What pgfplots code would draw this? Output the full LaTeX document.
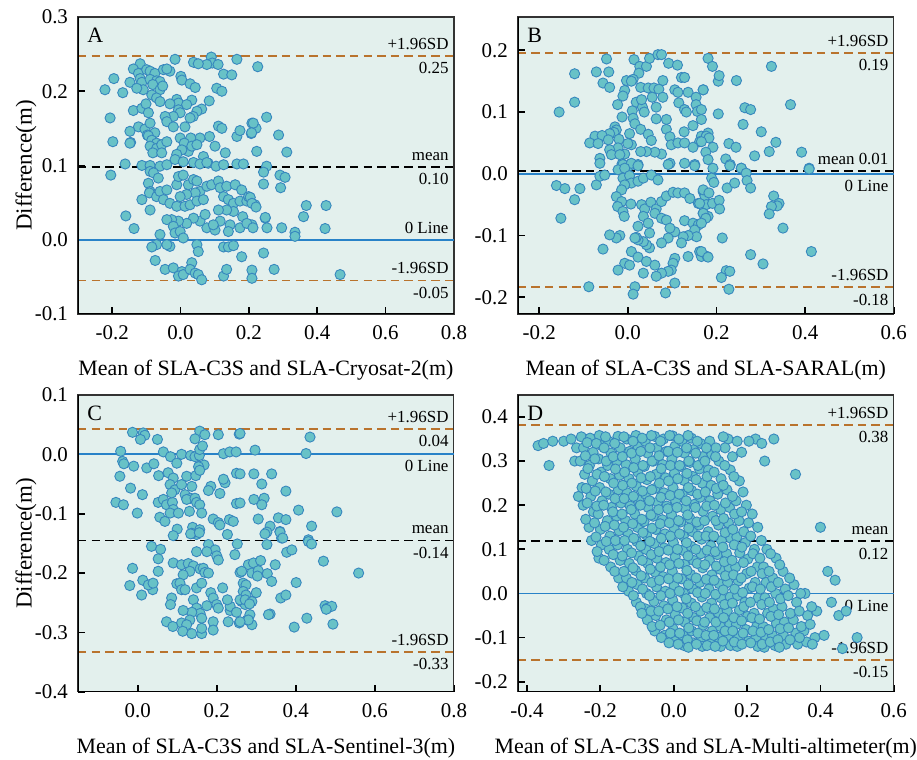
\documentclass[border=0pt]{standalone}
\usepackage{fontspec}
\setmainfont{Liberation Serif}
\usepackage{pgfplots}
\pgfplotsset{compat=1.18}

\definecolor{bgc}{RGB}{227,240,237}
\definecolor{ptfill}{RGB}{104,194,199}
\definecolor{ptedge}{RGB}{55,135,190}
\definecolor{sdc}{RGB}{185,115,45}
\definecolor{zeroc}{RGB}{40,130,200}

\pgfplotsset{
  panel/.style={
    scale only axis, width=188bp, height=148.5bp, anchor=south west,
    axis background/.style={fill=bgc},
    axis line style={draw=black!80, line width=0.6bp},
    tick pos=left, tick align=inside, major tick length=3.5bp,
    every tick/.style={black, line width=0.9bp},
    /pgf/number format/assume math mode=true,
    tick label style={font=\fontsize{10.5}{12}\selectfont},
    xticklabel style={/pgf/number format/.cd, fixed, fixed zerofill, precision=1, /tikz/.cd, yshift=-2.5bp},
    yticklabel style={/pgf/number format/.cd, fixed, fixed zerofill, precision=1, /tikz/.cd, xshift=-1.5bp},
    scaled ticks=false,
    every axis x label/.style={at={(axis description cs:0.5,-0.189)}, anchor=center, inner sep=0pt, font=\fontsize{11}{13}\selectfont},
    every axis y label/.style={at={(axis description cs:-0.138,0.5)}, rotate=90, anchor=center, inner sep=0pt, font=\fontsize{11.5}{13}\selectfont},
  },
  pts/.style={only marks, mark=*, mark size=2.55bp, mark options={fill=ptfill, draw=ptedge, line width=0.45bp}},
  sdl/.style={sdc, line width=0.9bp, dash pattern=on 4.2bp off 2.6bp},
  meanl/.style={black, line width=0.9bp, dash pattern=on 4.2bp off 2.6bp},
  zerol/.style={zeroc, line width=0.9bp},
}
\tikzset{
  ann/.style={font=\fontsize{8.5}{10}\selectfont, inner sep=0pt},
  up/.style={ann, anchor=base east, xshift=-2.5bp, yshift=3.3bp},
  dn/.style={ann, anchor=north east, xshift=-2.5bp, yshift=-3bp},
  lett/.style={font=\fontsize{11}{12}\selectfont, inner sep=0pt, anchor=north west, xshift=4.5bp, yshift=-5.5bp},
  frame/.style={line width=1.1bp, black},
}

\begin{document}
\begin{tikzpicture}
\path (0,0) rectangle (458.5bp,380bp);

% ---------------- A ----------------
\begin{axis}[panel, at={(39bp,223bp)}, xmin=-0.3, xmax=0.8, ymin=-0.1, ymax=0.3,
  xtick={-0.2,0,0.2,0.4,0.6,0.8}, ytick={-0.1,0,0.1,0.2,0.3},
  xlabel={Mean of SLA-C3S and SLA-Cryosat-2(m)}, ylabel={Difference(m)}]
\addplot[pts] coordinates {
(-0.016,0.243) (0.09,0.246) (0.093,0.238) (0.077,0.236) (0.11,0.236) (0.038,0.239) (0.052,0.237) (0.165,0.243) (0.226,0.233)
(-0.118,0.237) (-0.138,0.230) (-0.123,0.224) (-0.099,0.229) (-0.089,0.227) (-0.075,0.224) (-0.05,0.229) (-0.031,0.227) (-0.04,0.23)
(-0.195,0.217) (-0.221,0.202) (-0.169,0.198)
(-0.148,0.212) (-0.118,0.217) (-0.113,0.212) (-0.089,0.216) (-0.07,0.214) (-0.06,0.213) (-0.081,0.209) (-0.06,0.202) (-0.109,0.202) (-0.084,0.195) (-0.128,0.204) (-0.07,0.191) (-0.06,0.186) (-0.052,0.207)
(0.001,0.22) (0.004,0.215) (0.028,0.21) (0.043,0.205) (0.106,0.204) (0.121,0.2) (0.126,0.223) (0.15,0.222)
(-0.011,0.189) (-0.006,0.184) (-0.031,0.183) (0.033,0.188) (0.018,0.182) (0.084,0.187) (0.062,0.176) (0.048,0.173) (0.037,0.166) (0.028,0.164) (-0.006,0.175) (-0.001,0.171) (-0.021,0.166) (-0.045,0.166) (-0.04,0.159) (-0.021,0.152) (0.013,0.152)
(-0.138,0.174) (-0.113,0.177) (-0.101,0.183) (-0.094,0.171) (-0.123,0.152) (-0.104,0.149) (-0.089,0.157) (-0.097,0.141) (-0.075,0.144) (-0.148,0.146) (-0.146,0.131) (-0.198,0.132) (-0.206,0.164)
(0.111,0.153) (0.121,0.15) (0.085,0.139) (0.057,0.137) (0.03,0.137) (-0.001,0.137) (0.011,0.13) (0.023,0.119) (0.004,0.121) (-0.011,0.115) (0.033,0.126) (0.048,0.128) (0.067,0.112) (0.081,0.103) (0.101,0.126) (0.131,0.117) (0.165,0.139) (0.174,0.147) (0.207,0.143) (0.209,0.157) (0.221,0.15) (0.223,0.119) (0.252,0.165) (0.165,0.102) (0.184,0.102) (0.252,0.099)
(-0.094,0.14) (-0.084,0.134) (-0.07,0.13) (-0.089,0.126) (-0.07,0.123) (-0.055,0.128) (-0.081,0.117) (-0.055,0.117) (-0.04,0.132) (-0.148,0.13)
(-0.162,0.102) (-0.113,0.1) (-0.089,0.1) (-0.06,0.099) (-0.04,0.101) (-0.016,0.108) (0.008,0.105) (0.038,0.104) (0.057,0.102) (0.077,0.104) (0.104,0.099) (0.126,0.101)
(0.287,0.141) (0.311,0.118) (0.213,0.157) (0.208,0.144)
(-0.204,0.087) (0.243,0.091) (0.243,0.075)
(-0.089,0.092) (-0.079,0.09) (-0.065,0.083) (-0.094,0.076) (-0.089,0.065) (-0.091,0.063) (-0.113,0.054) (-0.089,0.04) (-0.07,0.058) (-0.06,0.065) (-0.05,0.054) (-0.04,0.067) (-0.031,0.049) (-0.011,0.074) (-0.006,0.085) (0.008,0.087) (0.023,0.074) (0.038,0.081) (0.048,0.079) (0.057,0.065) (0.043,0.063) (0.018,0.061) (-0.001,0.058) (-0.011,0.045) (0.013,0.045) (0.028,0.047) (0.048,0.052) (0.067,0.054) (0.077,0.072) (0.091,0.074) (0.111,0.079) (0.116,0.07) (0.135,0.072) (0.126,0.058) (0.14,0.054) (0.155,0.049) (0.16,0.074) (0.179,0.067) (0.174,0.052) (0.194,0.052) (0.199,0.058) (0.218,0.047) (0.182,0.031) (0.155,0.038) (0.135,0.04) (0.111,0.04) (0.116,0.025) (0.145,0.02) (0.14,0.011) (0.174,0.016) (0.209,0.02) (0.194,0.022) (0.248,0.029) (0.253,0.016) (0.077,0.016) (0.101,0.013) (0.096,0.02) (0.057,0.025) (0.072,0.034) (0.038,0.029) (0.018,0.022) (-0.006,0.025) (-0.026,0.027) (-0.04,0.027) (-0.021,0.018) (-0.016,0.009) (-0.001,0.011) (0.008,0.0023) (-0.031,-0.009) (-0.06,0.007) (-0.16,0.032) (-0.136,0.015) (-0.04,-0.0067) (-0.07,-0.0067) (-0.084,-0.0098) (0.048,-0.0067) (0.052,-0.016) (0.126,-0.0098) (0.14,-0.0098) (0.155,-0.008) (0.179,-0.023) (0.243,-0.018) (-0.074,-0.028) (-0.045,-0.04) (-0.021,-0.038) (0.004,-0.043) (-0.006,-0.049) (0.008,-0.047) (0.033,-0.031) (0.028,-0.04) (0.043,-0.045) (0.052,-0.047) (0.062,-0.054) (0.126,-0.049) (0.135,-0.04) (0.209,-0.041) (0.209,-0.052)
(0.291,0.087) (0.306,0.084) (0.293,0.07) (0.204,0.057) (0.209,0.049) (0.221,0.044) (0.368,0.046) (0.426,0.046) (0.248,0.03) (0.36,0.031) (0.212,0.016) (0.296,0.016) (0.335,0.01) (0.335,0.0045) (0.423,0.015) (0.274,-0.04) (0.467,-0.047)
};
\addplot[zerol] coordinates {(-0.3,0) (0.8,0)};
\addplot[sdl] coordinates {(-0.3,0.247) (0.8,0.247)};
\addplot[meanl] coordinates {(-0.3,0.098) (0.8,0.098)};
\addplot[sdl] coordinates {(-0.3,-0.055) (0.8,-0.055)};
\draw[frame] (rel axis cs:0,1) -- (rel axis cs:0,0) -- (rel axis cs:1,0);
\node[lett] at (rel axis cs:0,1) {A};
\node[up] at (axis cs:0.8,0.247) {+1.96SD};
\node[dn] at (axis cs:0.8,0.247) {0.25};
\node[up] at (axis cs:0.8,0.098) {mean};
\node[dn] at (axis cs:0.8,0.098) {0.10};
\node[up] at (axis cs:0.8,0) {0 Line};
\node[up] at (axis cs:0.8,-0.055) {-1.96SD};
\node[dn] at (axis cs:0.8,-0.055) {-0.05};
\end{axis}

% ---------------- B ----------------
\begin{axis}[panel, at={(259bp,223bp)}, xmin=-0.248, xmax=0.6, ymin=-0.227, ymax=0.254,
  xtick={-0.2,0,0.2,0.4,0.6}, ytick={-0.2,-0.1,0,0.1,0.2},
  xlabel={Mean of SLA-C3S and SLA-SARAL(m)}]
\addplot[pts] coordinates {
(-0.048,0.186) (-0.12,0.162) (-0.071,0.165) (-0.043,0.165) (-0.056,0.147) (-0.041,0.14) (-0.12,0.116) (-0.155,0.1) (0.014,0.185) (0.027,0.174) (0.042,0.174) (0.049,0.187) (0.068,0.193) (0.076,0.193) (0.092,0.179) (0.112,0.176) (0.025,0.163) (0.012,0.153) (-0.003,0.151) (0.008,0.15) (0.079,0.151) (0.121,0.156) (0.128,0.156) (0.136,0.132) (0.154,0.124) (0.17,0.136) (0.029,0.14) (0.046,0.139) (0.059,0.139) (0.07,0.137) (0.106,0.136) (0.113,0.132) (-0.007,0.135) (-0.011,0.126) (-0.023,0.112) (0.019,0.116) (0.033,0.108) (0.031,0.12) (0.055,0.124) (0.079,0.124) (0.064,0.108) (0.115,0.115) (0.128,0.104) (0.132,0.1) (0.154,0.112) (0.157,0.101) (0.037,0.1) (0.01,0.102) (0.012,0.09) (-0.013,0.092) (0.064,0.089) (0.087,0.088) (0.016,0.081) (-0.029,0.076) (-0.026,0.071) (-0.031,0.067) (-0.041,0.065) (-0.074,0.061) (-0.058,0.062) (-0.086,0.05) (-0.067,0.049) (-0.044,0.055) (-0.02,0.056) (0.004,0.065) (0.029,0.072) (0.046,0.064) (0.053,0.054) (0.087,0.072) (0.095,0.06) (0.098,0.047) (0.113,0.05) (0.127,0.068) (0.147,0.078) (0.166,0.061) (0.162,0.052) (0.177,0.061) (0.147,0.043) (0.128,0.05) (0.076,0.032) (0.061,0.035) (0.042,0.036) (0.029,0.036) (0.008,0.047) (0.0,0.049) (-0.022,0.042) (-0.007,0.032) (-0.041,0.039) (-0.037,0.031) (-0.063,0.025) (-0.063,0.017) (-0.018,0.031) (-0.013,0.016) (0.004,0.013) (0.023,0.015) (0.095,0.017) (0.128,0.017) (0.151,0.015) (0.181,0.066)
(0.181,0.187) (0.191,0.174) (0.204,0.15) (0.206,0.159) (0.245,0.151) (0.324,0.174) (0.17,0.136) (0.367,0.112) (0.166,0.104) (0.166,0.088) (0.204,0.097) (0.264,0.107) (0.277,0.104) (0.26,0.08) (0.301,0.068) (0.177,0.061) (0.183,0.058) (0.166,0.052) (0.192,0.043) (0.176,0.035) (0.228,0.049) (0.244,0.043) (0.334,0.051) (0.319,0.036) (0.286,0.029) (0.392,0.035) (0.221,0.024) (0.231,0.015) (0.192,0.009) (0.256,0.009) (0.409,0.009)
(-0.011,0.015) (0.008,0.017) (0.023,0.013) (0.091,0.015) (0.151,0.013)
(-0.161,-0.019) (-0.142,-0.024) (-0.108,-0.024) (-0.12,-0.042) (-0.151,-0.072) (-0.071,-0.018) (-0.063,-0.004) (-0.052,-0.002)
(-0.022,0.0065) (-0.007,0.009) (-0.011,-0.007) (0.004,-0.003) (0.008,-0.015) (0.023,-0.012) (0.035,-0.007) (0.053,-0.002) (0.068,-0.01) (-0.007,-0.018) (-0.014,-0.026) (-0.026,-0.037) (-0.014,-0.045) (-0.023,-0.053) (-0.011,-0.061) (-0.008,-0.069) (0.007,-0.049) (0.031,-0.05) (0.038,-0.057) (0.052,-0.046) (0.064,-0.057) (0.076,-0.045) (0.087,-0.036) (0.102,-0.03) (0.113,-0.031) (0.128,-0.031) (0.14,-0.04) (0.159,-0.048) (0.17,-0.029) (0.174,-0.036)
(0.035,-0.069) (0.046,-0.08) (0.049,-0.096) (0.061,-0.064) (0.076,-0.072) (0.087,-0.075) (0.128,-0.076) (0.147,-0.08) (0.159,-0.083) (0.151,-0.091) (0.155,-0.102) (0.136,-0.1) (0.125,-0.102) (0.121,-0.112) (0.106,-0.094) (0.095,-0.088) (0.091,-0.104) (0.076,-0.112) (0.049,-0.12) (0.042,-0.115) (0.035,-0.11) (0.023,-0.107) (0.019,-0.103) (0.023,-0.085) (0.016,-0.104) (-0.018,-0.1) (-0.026,-0.104) (-0.041,-0.099) (-0.056,-0.122) (0.008,-0.126) (0.023,-0.135) (0.042,-0.142) (0.061,-0.148) (0.106,-0.137) (0.102,-0.145) (0.098,-0.156) (0.091,-0.158) (0.076,-0.161) (0.064,-0.166) (0.035,-0.161) (-0.007,-0.145) (0.004,-0.148) (-0.022,-0.156) (0.136,-0.134) (0.162,-0.126) (0.166,-0.134) (0.179,-0.134) (0.106,-0.177) (0.016,-0.183) (0.012,-0.195) (0.085,-0.193) (-0.088,-0.183) (0.177,-0.05) (0.17,-0.064) (0.181,-0.069)
(0.181,0.023) (0.23,0.013) (0.256,0.009) (0.267,0.001) (0.409,0.0076) (0.189,-0.007) (0.194,-0.014) (0.224,-0.023) (0.241,-0.015) (0.269,-0.011) (0.277,-0.023) (0.17,-0.026) (0.183,-0.031) (0.162,-0.048) (0.191,-0.048) (0.206,-0.043) (0.207,-0.057) (0.17,-0.064) (0.176,-0.072) (0.166,-0.08) (0.329,-0.036) (0.341,-0.048) (0.337,-0.052) (0.324,-0.053) (0.319,-0.065) (0.35,-0.088) (0.213,-0.104) (0.166,-0.126) (0.181,-0.135) (0.277,-0.131) (0.305,-0.146) (0.414,-0.126) (0.222,-0.157) (0.23,-0.158) (0.211,-0.168) (0.228,-0.187)
};
\addplot[zerol] coordinates {(-0.248,0) (0.6,0)};
\addplot[sdl] coordinates {(-0.248,0.196) (0.6,0.196)};
\addplot[meanl] coordinates {(-0.248,0.005) (0.6,0.005)};
\addplot[sdl] coordinates {(-0.248,-0.184) (0.6,-0.184)};
\draw[frame] (rel axis cs:0,1) -- (rel axis cs:0,0) -- (rel axis cs:1,0);
\node[lett] at (rel axis cs:0,1) {B};
\node[up] at (axis cs:0.6,0.196) {+1.96SD};
\node[dn] at (axis cs:0.6,0.196) {0.19};
\node[up] at (axis cs:0.6,0.005) {mean 0.01};
\node[dn] at (axis cs:0.6,0) {0 Line};
\node[up] at (axis cs:0.6,-0.184) {-1.96SD};
\node[dn] at (axis cs:0.6,-0.184) {-0.18};
\end{axis}

% ---------------- C ----------------
\begin{axis}[panel, at={(39bp,34bp)}, xmin=-0.151, xmax=0.8, ymin=-0.4, ymax=0.1,
  xtick={0,0.2,0.4,0.6,0.8}, ytick={-0.4,-0.3,-0.2,-0.1,0,0.1},
  xlabel={Mean of SLA-C3S and SLA-Sentinel-3(m)}, ylabel={Difference(m)}]
\addplot[pts] coordinates {
(-0.013,0.037) (0.014,0.036) (0.018,0.032) (0.007,0.025) (0.05,0.025) (0.157,0.039) (0.17,0.033) (0.145,0.026) (0.204,0.033) (0.257,0.034)
(-0.043,0.005) (-0.038,-0.012) (-0.035,-0.016) (-0.01,-0.02) (0.023,-0.023) (0.041,-0.016) (0.065,0.004) (0.083,-0.004) (0.099,-0.015) (0.111,0.0) (0.134,-0.002) (0.145,-0.004) (0.156,-0.002) (0.157,0.008) (0.164,0.014) (0.156,-0.02) (0.168,-0.018) (0.217,0.001) (0.233,0.004) (0.249,0.004) (-0.045,-0.037) (-0.018,-0.057) (0.012,-0.068) (0.053,-0.036) (0.077,-0.031) (0.09,-0.04) (0.082,-0.051) (0.094,-0.06) (0.111,-0.051) (0.124,-0.037) (0.147,-0.036) (0.154,-0.021) (0.157,-0.027) (0.12,-0.068) (0.134,-0.074) (0.137,-0.054) (0.185,-0.054) (0.179,-0.061) (0.208,-0.066) (0.221,-0.048) (0.217,-0.042) (0.25,-0.032) (-0.055,-0.081) (-0.036,-0.085) (-0.001,-0.099) (0.052,-0.081) (0.065,-0.076) (0.073,-0.085) (0.088,-0.081) (0.09,-0.093) (0.086,-0.065) (0.056,-0.106) (0.069,-0.113) (0.082,-0.099) (0.103,-0.099) (0.124,-0.076) (0.145,-0.074) (0.149,-0.081) (0.157,-0.085) (0.162,-0.099) (0.131,-0.096) (0.191,-0.109) (0.204,-0.115) (0.208,-0.119) (0.232,-0.11) (0.242,-0.113) (0.25,-0.083) (0.1,-0.126) (0.139,-0.123) (0.157,-0.127) (0.149,-0.135) (0.137,-0.133)
(0.259,0.035) (0.436,0.029) (0.297,0.007) (0.426,0.0013) (0.259,-0.033) (0.294,-0.033) (0.339,-0.033) (0.314,-0.05) (0.375,-0.062) (0.294,-0.076) (0.32,-0.074) (0.314,-0.085) (0.259,-0.082) (0.407,-0.094) (0.504,-0.097) (0.305,-0.109) (0.356,-0.107) (0.375,-0.11) (0.335,-0.121) (0.327,-0.131) (0.36,-0.13) (0.44,-0.121) (0.364,-0.141) (0.432,-0.144)
(0.09,-0.137) (0.134,-0.134) (0.156,-0.132) (0.227,-0.135) (0.252,-0.151) (0.035,-0.155) (0.058,-0.16) (0.052,-0.176) (0.09,-0.183) (0.111,-0.186) (0.128,-0.184) (0.141,-0.188) (0.132,-0.197) (0.115,-0.203) (0.158,-0.193) (0.179,-0.152) (0.196,-0.161) (0.2,-0.171) (0.204,-0.178) (0.175,-0.164) (0.149,-0.164) (0.246,-0.169) (-0.013,-0.192) (0.013,-0.212) (-0.02,-0.221) (0.01,-0.237) (0.038,-0.228) (0.027,-0.22) (0.039,-0.217) (0.052,-0.197) (0.086,-0.242) (0.083,-0.253) (0.099,-0.218) (0.107,-0.217) (0.111,-0.228) (0.12,-0.228) (0.149,-0.225) (0.162,-0.217) (0.166,-0.192) (0.17,-0.199) (0.179,-0.2) (0.185,-0.233) (0.191,-0.242) (0.2,-0.253) (0.204,-0.259) (0.175,-0.255) (0.141,-0.245) (0.149,-0.259) (0.158,-0.268) (0.162,-0.276) (0.137,-0.266) (0.132,-0.279) (0.115,-0.263) (0.111,-0.284) (0.073,-0.282) (0.124,-0.287) (0.089,-0.29) (0.114,-0.298) (0.137,-0.302) (0.162,-0.302) (0.162,-0.293) (0.191,-0.282) (0.191,-0.296) (0.215,-0.225) (0.234,-0.263) (0.234,-0.256) (0.227,-0.245) (0.25,-0.266) (0.267,-0.217) (0.263,-0.248) (0.259,-0.199) (0.28,-0.186) (0.229,-0.282) (0.277,-0.279) (0.257,-0.284) (0.272,-0.253)
(0.322,-0.134) (0.36,-0.131) (0.367,-0.141) (0.327,-0.152) (0.432,-0.147) (0.44,-0.151) (0.377,-0.165) (0.39,-0.161) (0.47,-0.18) (0.559,-0.2) (0.293,-0.183) (0.311,-0.179) (0.348,-0.186) (0.263,-0.197) (0.289,-0.2) (0.305,-0.196) (0.303,-0.205) (0.328,-0.201) (0.339,-0.214) (0.401,-0.216) (0.274,-0.22) (0.267,-0.231) (0.274,-0.237) (0.3,-0.233) (0.259,-0.245) (0.272,-0.245) (0.289,-0.248) (0.283,-0.252) (0.284,-0.27) (0.289,-0.287) (0.28,-0.279) (0.259,-0.282) (0.362,-0.242) (0.375,-0.237) (0.335,-0.269) (0.331,-0.27) (0.396,-0.291) (0.428,-0.276) (0.474,-0.255) (0.48,-0.259) (0.491,-0.256) (0.477,-0.261) (0.494,-0.286)
};
\addplot[zerol] coordinates {(-0.151,0) (0.8,0)};
\addplot[sdl] coordinates {(-0.151,0.043) (0.8,0.043)};
\addplot[meanl] coordinates {(-0.151,-0.145) (0.8,-0.145)};
\addplot[sdl] coordinates {(-0.151,-0.333) (0.8,-0.333)};
\draw[frame] (rel axis cs:0,1) -- (rel axis cs:0,0) -- (rel axis cs:1,0);
\node[lett] at (rel axis cs:0,1) {C};
\node[up] at (axis cs:0.8,0.043) {+1.96SD};
\node[dn] at (axis cs:0.8,0.043) {0.04};
\node[dn] at (axis cs:0.8,0) {0 Line};
\node[up] at (axis cs:0.8,-0.145) {mean};
\node[dn] at (axis cs:0.8,-0.145) {-0.14};
\node[up] at (axis cs:0.8,-0.333) {-1.96SD};
\node[dn] at (axis cs:0.8,-0.333) {-0.33};
\end{axis}

% ---------------- D ----------------
\begin{axis}[panel, at={(259bp,34bp)}, xmin=-0.425, xmax=0.6, ymin=-0.223, ymax=0.45,
  xtick={-0.4,-0.2,0,0.2,0.4,0.6}, ytick={-0.2,-0.1,0,0.1,0.2,0.3,0.4},
  xlabel={Mean of SLA-C3S and SLA-Multi-altimeter(m)}]
\addplot[pts] coordinates {
(-0.37,0.335) (-0.355,0.34) (-0.34,0.29) (-0.33,0.345) (-0.3,0.345) (-0.28,0.35) (-0.265,0.33) (-0.27,0.3) (-0.26,0.22)
(-0.252,0.355) (-0.246,0.33) (-0.255,0.3) (-0.243,0.27) (-0.25,0.24) (-0.247,0.2)
(-0.228,0.352) (-0.22,0.32) (-0.23,0.29) (-0.222,0.255) (-0.226,0.22) (-0.219,0.185) (-0.231,0.15) (-0.224,0.12)
(-0.203,0.358) (-0.196,0.335) (-0.205,0.305) (-0.198,0.275) (-0.202,0.24) (-0.195,0.21) (-0.206,0.18) (-0.2,0.145) (-0.197,0.11) (-0.204,0.08)
(-0.178,0.345) (-0.171,0.318) (-0.18,0.29) (-0.173,0.26) (-0.177,0.225) (-0.17,0.195) (-0.181,0.165) (-0.174,0.13) (-0.176,0.1) (-0.172,0.06)
(-0.152,0.356) (-0.146,0.33) (-0.155,0.3) (-0.148,0.268) (-0.151,0.235) (-0.144,0.205) (-0.156,0.175) (-0.149,0.142) (-0.153,0.11) (-0.146,0.075) (-0.15,0.035)
(-0.128,0.35) (-0.12,0.322) (-0.13,0.292) (-0.122,0.26) (-0.127,0.228) (-0.119,0.198) (-0.131,0.165) (-0.124,0.135) (-0.126,0.1) (-0.121,0.068) (-0.129,0.035) (-0.123,0.005)
(-0.103,0.358) (-0.097,0.332) (-0.105,0.305) (-0.098,0.275) (-0.102,0.243) (-0.095,0.212) (-0.106,0.18) (-0.099,0.15) (-0.101,0.118) (-0.096,0.085) (-0.104,0.052) (-0.099,0.02) (-0.102,-0.02)
(-0.078,0.345) (-0.071,0.318) (-0.08,0.288) (-0.073,0.258) (-0.077,0.225) (-0.07,0.195) (-0.081,0.163) (-0.074,0.132) (-0.076,0.1) (-0.071,0.068) (-0.079,0.035) (-0.074,0.0) (-0.077,-0.035) (-0.072,-0.06)
(-0.052,0.356) (-0.046,0.33) (-0.055,0.3) (-0.048,0.27) (-0.051,0.238) (-0.044,0.207) (-0.056,0.175) (-0.049,0.145) (-0.053,0.113) (-0.046,0.08) (-0.05,0.048) (-0.047,0.015) (-0.054,-0.018) (-0.049,-0.05) (-0.052,-0.085)
(-0.028,0.35) (-0.02,0.322) (-0.03,0.292) (-0.022,0.262) (-0.027,0.228) (-0.019,0.198) (-0.031,0.167) (-0.024,0.135) (-0.026,0.103) (-0.021,0.07) (-0.029,0.038) (-0.023,0.005) (-0.027,-0.028) (-0.02,-0.06) (-0.025,-0.095)
(-0.003,0.357) (0.003,0.333) (-0.005,0.305) (0.002,0.273) (-0.002,0.24) (0.005,0.21) (-0.006,0.178) (0.001,0.148) (-0.001,0.115) (0.004,0.083) (-0.004,0.05) (0.001,0.017) (-0.003,-0.015) (0.004,-0.048) (-0.002,-0.08) (0.002,-0.108)
(0.022,0.345) (0.029,0.318) (0.02,0.288) (0.028,0.256) (0.023,0.225) (0.031,0.193) (0.019,0.162) (0.026,0.13) (0.024,0.098) (0.029,0.066) (0.021,0.033) (0.027,0.0) (0.023,-0.033) (0.03,-0.065) (0.025,-0.095) (0.028,-0.118)
(0.048,0.352) (0.054,0.326) (0.045,0.297) (0.052,0.265) (0.049,0.233) (0.056,0.202) (0.044,0.17) (0.051,0.14) (0.047,0.107) (0.054,0.075) (0.046,0.043) (0.053,0.01) (0.048,-0.022) (0.055,-0.055) (0.049,-0.085) (0.052,-0.112)
(0.073,0.34) (0.079,0.31) (0.07,0.282) (0.078,0.25) (0.072,0.218) (0.08,0.186) (0.069,0.155) (0.076,0.123) (0.074,0.09) (0.079,0.058) (0.071,0.025) (0.077,-0.008) (0.073,-0.04) (0.08,-0.072) (0.075,-0.1) (0.078,-0.12)
(0.098,0.345) (0.104,0.315) (0.095,0.28) (0.102,0.245) (0.099,0.21) (0.106,0.175) (0.094,0.14) (0.101,0.108) (0.097,0.075) (0.104,0.042) (0.096,0.01) (0.103,-0.022) (0.098,-0.055) (0.105,-0.085) (0.1,-0.112)
(0.123,0.3) (0.129,0.26) (0.12,0.225) (0.128,0.19) (0.122,0.155) (0.13,0.12) (0.119,0.088) (0.126,0.055) (0.124,0.022) (0.129,-0.01) (0.121,-0.043) (0.127,-0.075) (0.123,-0.1) (0.128,-0.12)
(0.148,0.35) (0.154,0.28) (0.145,0.235) (0.152,0.195) (0.149,0.16) (0.156,0.125) (0.144,0.09) (0.151,0.058) (0.147,0.025) (0.154,-0.008) (0.146,-0.04) (0.153,-0.07) (0.148,-0.095) (0.155,-0.118)
(0.173,0.345) (0.179,0.255) (0.17,0.21) (0.178,0.165) (0.172,0.128) (0.18,0.092) (0.169,0.06) (0.176,0.028) (0.174,-0.005) (0.179,-0.038) (0.171,-0.07) (0.177,-0.098) (0.173,-0.12)
(0.198,0.2) (0.204,0.16) (0.195,0.115) (0.202,0.078) (0.199,0.045) (0.206,0.012) (0.194,-0.02) (0.201,-0.052) (0.197,-0.082) (0.204,-0.108)
(0.223,0.35) (0.229,0.15) (0.22,0.1) (0.228,0.06) (0.222,0.025) (0.23,-0.01) (0.219,-0.045) (0.226,-0.075) (0.224,-0.1) (0.229,-0.12)
(0.248,0.3) (0.254,0.1) (0.245,0.06) (0.252,0.025) (0.249,-0.01) (0.256,-0.045) (0.244,-0.075) (0.251,-0.1) (0.247,-0.122)
(0.273,0.35) (0.279,0.08) (0.27,0.035) (0.278,0.0) (0.272,-0.035) (0.28,-0.068) (0.269,-0.095) (0.276,-0.118)
(0.298,0.05) (0.304,0.01) (0.295,-0.03) (0.302,-0.065) (0.299,-0.095) (0.306,-0.115)
(0.332,0.27) (0.328,0.02) (0.335,-0.02) (0.326,-0.06) (0.333,-0.09) (0.338,-0.115)
(0.358,0.0) (0.365,-0.05) (0.355,-0.085) (0.362,-0.11)
(0.4,0.15) (0.385,-0.1) (0.41,-0.095) (0.42,0.05) (0.44,0.03) (0.43,-0.02) (0.45,-0.05) (0.47,-0.04) (0.5,-0.1) (0.46,-0.125) (0.39,-0.04)
(0.185,0.32) (0.205,0.345) (0.16,0.31) (0.14,0.33) (0.115,0.33) (0.135,0.355) (0.24,0.34)
(-0.236,0.342) (-0.241,0.312) (-0.234,0.283) (-0.239,0.238) (-0.236,0.205) (-0.24,0.168)
(-0.211,0.34) (-0.215,0.305) (-0.209,0.27) (-0.214,0.232) (-0.21,0.198) (-0.216,0.16) (-0.212,0.128) (-0.209,0.095)
(-0.186,0.355) (-0.19,0.33) (-0.184,0.3) (-0.189,0.265) (-0.185,0.23) (-0.191,0.2) (-0.187,0.152) (-0.184,0.118) (-0.19,0.075)
(-0.161,0.34) (-0.165,0.31) (-0.159,0.282) (-0.164,0.25) (-0.16,0.215) (-0.166,0.185) (-0.162,0.155) (-0.159,0.12) (-0.165,0.088) (-0.161,0.05)
(-0.136,0.355) (-0.14,0.31) (-0.134,0.275) (-0.139,0.245) (-0.135,0.215) (-0.141,0.18) (-0.137,0.15) (-0.134,0.12) (-0.14,0.085) (-0.136,0.05) (-0.139,0.015)
(-0.111,0.345) (-0.115,0.318) (-0.109,0.285) (-0.114,0.25) (-0.11,0.22) (-0.116,0.19) (-0.112,0.158) (-0.109,0.125) (-0.115,0.092) (-0.111,0.058) (-0.114,0.025) (-0.11,-0.005)
(-0.086,0.352) (-0.09,0.322) (-0.084,0.29) (-0.089,0.262) (-0.085,0.232) (-0.091,0.2) (-0.087,0.168) (-0.084,0.138) (-0.09,0.108) (-0.086,0.075) (-0.089,0.04) (-0.085,0.01) (-0.091,-0.03) (-0.087,-0.045)
(-0.061,0.358) (-0.065,0.33) (-0.059,0.3) (-0.064,0.265) (-0.06,0.235) (-0.066,0.21) (-0.062,0.178) (-0.059,0.148) (-0.065,0.118) (-0.061,0.088) (-0.064,0.055) (-0.06,0.025) (-0.066,-0.005) (-0.062,-0.04) (-0.059,-0.075)
(-0.036,0.345) (-0.04,0.312) (-0.034,0.283) (-0.039,0.25) (-0.035,0.218) (-0.041,0.19) (-0.037,0.158) (-0.034,0.125) (-0.04,0.095) (-0.036,0.06) (-0.039,0.03) (-0.035,-0.005) (-0.041,-0.04) (-0.037,-0.072) (-0.034,-0.1)
(-0.011,0.358) (-0.015,0.322) (-0.009,0.29) (-0.014,0.255) (-0.01,0.222) (-0.016,0.192) (-0.012,0.16) (-0.009,0.13) (-0.015,0.098) (-0.011,0.065) (-0.014,0.033) (-0.01,0.0) (-0.016,-0.035) (-0.012,-0.065) (-0.009,-0.09) (-0.013,-0.112)
(0.014,0.35) (0.01,0.32) (0.016,0.29) (0.011,0.26) (0.015,0.225) (0.009,0.195) (0.013,0.165) (0.016,0.135) (0.01,0.1) (0.014,0.068) (0.011,0.035) (0.015,0.005) (0.009,-0.03) (0.013,-0.06) (0.016,-0.09) (0.012,-0.115)
(0.039,0.358) (0.035,0.33) (0.041,0.3) (0.036,0.272) (0.04,0.24) (0.034,0.21) (0.038,0.178) (0.041,0.148) (0.035,0.115) (0.039,0.085) (0.036,0.052) (0.04,0.02) (0.034,-0.012) (0.038,-0.045) (0.041,-0.078) (0.037,-0.105) (0.04,-0.122)
(0.064,0.345) (0.06,0.318) (0.066,0.29) (0.061,0.258) (0.065,0.225) (0.059,0.195) (0.063,0.162) (0.066,0.13) (0.06,0.1) (0.064,0.068) (0.061,0.035) (0.065,0.002) (0.059,-0.03) (0.063,-0.062) (0.066,-0.09) (0.062,-0.115)
(0.089,0.33) (0.085,0.3) (0.091,0.265) (0.086,0.23) (0.09,0.198) (0.084,0.165) (0.088,0.13) (0.091,0.098) (0.085,0.065) (0.089,0.032) (0.086,0.0) (0.09,-0.032) (0.084,-0.065) (0.088,-0.095) (0.091,-0.118)
(0.114,0.31) (0.11,0.275) (0.116,0.238) (0.111,0.2) (0.115,0.165) (0.109,0.13) (0.113,0.095) (0.116,0.062) (0.11,0.03) (0.114,-0.002) (0.111,-0.035) (0.115,-0.065) (0.109,-0.095) (0.113,-0.12)
(0.139,0.29) (0.135,0.245) (0.141,0.205) (0.136,0.17) (0.14,0.138) (0.134,0.105) (0.138,0.072) (0.141,0.04) (0.135,0.008) (0.139,-0.025) (0.136,-0.055) (0.14,-0.085) (0.134,-0.108)
(0.164,0.265) (0.16,0.22) (0.166,0.18) (0.161,0.145) (0.165,0.11) (0.159,0.075) (0.163,0.042) (0.166,0.01) (0.16,-0.022) (0.164,-0.055) (0.161,-0.085) (0.165,-0.11)
(0.189,0.23) (0.185,0.185) (0.191,0.14) (0.186,0.105) (0.19,0.07) (0.184,0.035) (0.188,0.002) (0.191,-0.03) (0.185,-0.062) (0.189,-0.09) (0.186,-0.115)
(0.214,0.18) (0.21,0.13) (0.216,0.09) (0.211,0.05) (0.215,0.015) (0.209,-0.02) (0.213,-0.055) (0.216,-0.085) (0.21,-0.112)
(0.239,0.12) (0.235,0.08) (0.241,0.045) (0.236,0.01) (0.24,-0.025) (0.234,-0.058) (0.238,-0.088) (0.241,-0.115)
(0.264,0.09) (0.26,0.05) (0.266,0.015) (0.261,-0.02) (0.265,-0.052) (0.259,-0.082) (0.263,-0.11)
(0.289,0.065) (0.285,0.025) (0.291,-0.012) (0.286,-0.048) (0.29,-0.08) (0.284,-0.105) (0.288,-0.122)
(0.316,0.035) (0.312,-0.005) (0.318,-0.045) (0.313,-0.078) (0.317,-0.105)
(0.346,0.0) (0.342,-0.04) (0.348,-0.075) (0.343,-0.1)
(0.376,-0.03) (0.372,-0.07) (0.378,-0.115)
};
\addplot[zerol] coordinates {(-0.425,0) (0.6,0)};
\addplot[sdl] coordinates {(-0.425,0.382) (0.6,0.382)};
\addplot[meanl] coordinates {(-0.425,0.118) (0.6,0.118)};
\addplot[sdl] coordinates {(-0.425,-0.15) (0.6,-0.15)};
\draw[frame] (rel axis cs:0,1) -- (rel axis cs:0,0) -- (rel axis cs:1,0);
\node[lett] at (rel axis cs:0,1) {D};
\node[up] at (axis cs:0.6,0.382) {+1.96SD};
\node[dn] at (axis cs:0.6,0.382) {0.38};
\node[up] at (axis cs:0.6,0.118) {mean};
\node[dn] at (axis cs:0.6,0.118) {0.12};
\node[dn] at (axis cs:0.6,0) {0 Line};
\node[up] at (axis cs:0.6,-0.15) {-1.96SD};
\node[dn] at (axis cs:0.6,-0.15) {-0.15};
\end{axis}
\end{tikzpicture}
\end{document}
